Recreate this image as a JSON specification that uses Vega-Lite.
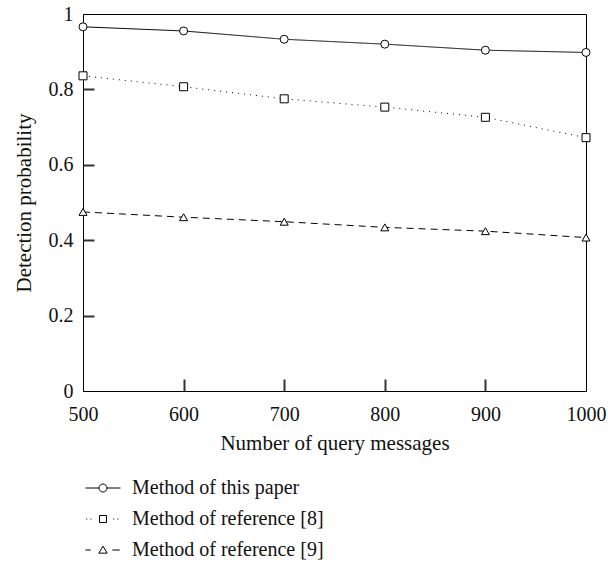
{
  "$schema": "https://vega.github.io/schema/vega-lite/v6.json",
  "width": 503,
  "height": 377,
  "autosize": "none",
  "padding": {"left": 83, "top": 14, "right": 22, "bottom": 176},
  "background": "white",
  "config": {
    "view": {"stroke": "black", "strokeWidth": 1},
    "font": "Liberation Serif",
    "axis": {
      "labelFont": "Liberation Serif",
      "titleFont": "Liberation Serif",
      "labelFontSize": 20,
      "titleFontSize": 21,
      "titleFontWeight": "normal",
      "labelColor": "#111",
      "titleColor": "#111",
      "domainColor": "black",
      "grid": false,
      "labelFlush": false,
      "labelOverlap": false
    }
  },
  "data": {
    "values": [
      {"n": 500, "p": 0.966, "series": "Method of this paper"},
      {"n": 600, "p": 0.955, "series": "Method of this paper"},
      {"n": 700, "p": 0.933, "series": "Method of this paper"},
      {"n": 800, "p": 0.92, "series": "Method of this paper"},
      {"n": 900, "p": 0.904, "series": "Method of this paper"},
      {"n": 1000, "p": 0.898, "series": "Method of this paper"},
      {"n": 500, "p": 0.836, "series": "Method of reference [8]"},
      {"n": 600, "p": 0.807, "series": "Method of reference [8]"},
      {"n": 700, "p": 0.775, "series": "Method of reference [8]"},
      {"n": 800, "p": 0.753, "series": "Method of reference [8]"},
      {"n": 900, "p": 0.726, "series": "Method of reference [8]"},
      {"n": 1000, "p": 0.672, "series": "Method of reference [8]"},
      {"n": 500, "p": 0.475, "series": "Method of reference [9]"},
      {"n": 600, "p": 0.461, "series": "Method of reference [9]"},
      {"n": 700, "p": 0.449, "series": "Method of reference [9]"},
      {"n": 800, "p": 0.434, "series": "Method of reference [9]"},
      {"n": 900, "p": 0.424, "series": "Method of reference [9]"},
      {"n": 1000, "p": 0.407, "series": "Method of reference [9]"}
    ]
  },
  "layer": [
    {
      "mark": {"type": "line", "color": "black", "strokeWidth": 1},
      "encoding": {
        "x": {
          "field": "n",
          "type": "quantitative",
          "scale": {"domain": [500, 1000], "nice": false, "zero": false},
          "axis": {"orient": "bottom", "title": "Number of query messages", "values": [500, 600, 700, 800, 900, 1000], "format": "d", "ticks": false, "labelPadding": 13, "titlePadding": 8}
        },
        "y": {
          "field": "p",
          "type": "quantitative",
          "scale": {"domain": [0, 1], "nice": false, "zero": false},
          "axis": {"orient": "left", "title": "Detection probability", "values": [0, 0.2, 0.4, 0.6, 0.8, 1], "format": "~g", "ticks": false, "labelPadding": 10, "titlePadding": 14}
        },
        "strokeDash": {
          "field": "series",
          "type": "nominal",
          "scale": {"domain": ["Method of this paper", "Method of reference [8]", "Method of reference [9]"], "range": [[1, 0], [1, 5], [7, 5]]},
          "legend": null
        }
      }
    },
    {
      "mark": {"type": "point", "filled": true, "fill": "white", "stroke": "black", "strokeWidth": 1, "opacity": 1, "size": 64},
      "encoding": {
        "x": {
          "field": "n",
          "type": "quantitative",
          "scale": {"domain": [500, 1000], "nice": false, "zero": false},
          "axis": {"orient": "top", "offset": -377, "title": null, "labels": true, "labelColor": "white", "domain": false, "ticks": true, "tickSize": 12, "tickWidth": 2, "tickColor": "#333", "values": [600, 700, 800, 900]}
        },
        "y": {
          "field": "p",
          "type": "quantitative",
          "scale": {"domain": [0, 1], "nice": false, "zero": false},
          "axis": {"orient": "right", "offset": -503, "title": null, "labels": true, "labelColor": "white", "domain": false, "ticks": true, "tickSize": 11, "tickWidth": 2, "tickColor": "#333", "values": [0.2, 0.4, 0.6, 0.8]}
        },
        "shape": {
          "field": "series",
          "type": "nominal",
          "scale": {"domain": ["Method of this paper", "Method of reference [8]", "Method of reference [9]"], "range": ["circle", "square", "triangle-up"]},
          "legend": null
        }
      }
    },
    {
      "mark": {"type": "point", "filled": false, "stroke": "black", "strokeWidth": 1, "opacity": 0, "size": 196},
      "encoding": {
        "x": {"field": "n", "type": "quantitative", "scale": {"domain": [500, 1000], "nice": false, "zero": false}, "axis": null},
        "y": {"field": "p", "type": "quantitative", "scale": {"domain": [0, 1], "nice": false, "zero": false}, "axis": null},
        "shape": {
          "field": "series",
          "type": "nominal",
          "scale": {
            "domain": ["Method of this paper", "Method of reference [8]", "Method of reference [9]"],
            "range": [
              "M-2.5,0H-0.57M0.57,0H2.5M0.57,0A0.57,0.57,0,1,1,-0.57,0A0.57,0.57,0,1,1,0.57,0Z",
              "M-2.4,0h0.15M-1.8,0h0.15M1.45,0h0.15M2.05,0h0.15M-0.5,-0.5H0.5V0.5H-0.5Z",
              "M-2.5,0H-1.75M1.35,0H2.4M0,-0.55L0.6,0.45L-0.6,0.45Z"
            ]
          },
          "legend": {
            "orient": "none",
            "legendX": 10,
            "legendY": 464,
            "title": null,
            "symbolSize": 196,
            "symbolStrokeColor": "black",
            "symbolFillColor": "white",
            "symbolStrokeWidth": 1,
            "symbolOpacity": 1,
            "labelFont": "Liberation Serif",
            "labelFontSize": 20,
            "labelColor": "#111",
            "labelOffset": 19,
            "rowPadding": 11,
            "padding": 0,
            "labelLimit": 400
          }
        }
      }
    }
  ],
  "resolve": {
    "scale": {"x": "independent", "y": "independent", "shape": "independent"},
    "legend": {"shape": "independent"},
    "axis": {"x": "independent", "y": "independent"}
  }
}
